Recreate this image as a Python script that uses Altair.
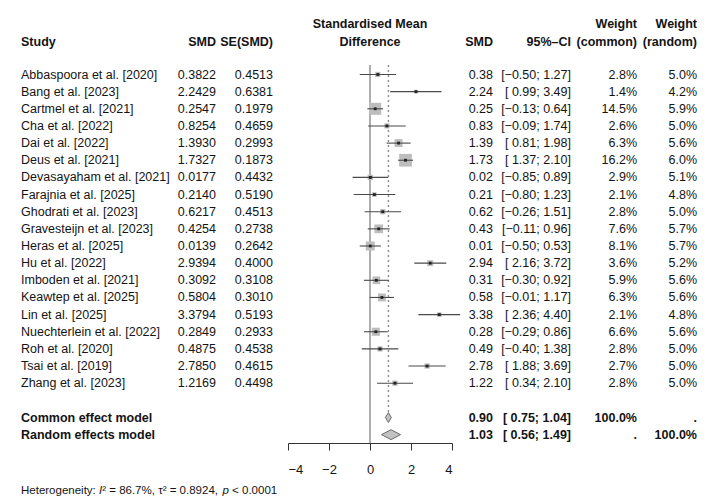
import altair as alt
import pandas as pd

# ---------------- data ----------------
studies = ["Abbaspoora et al. [2020]", "Bang et al. [2023]", "Cartmel et al. [2021]",
           "Cha et al. [2022]", "Dai et al. [2022]", "Deus et al. [2021]",
           "Devasayaham et al. [2021]", "Farajnia et al. [2025]", "Ghodrati et al. [2023]",
           "Gravesteijn et al. [2023]", "Heras et al. [2025]", "Hu et al. [2022]",
           "Imboden et al. [2021]", "Keawtep et al. [2025]", "Lin et al. [2025]",
           "Nuechterlein et al. [2022]", "Roh et al. [2020]", "Tsai et al. [2019]",
           "Zhang et al. [2023]"]
smd = [0.3822, 2.2429, 0.2547, 0.8254, 1.3930, 1.7327, 0.0177, 0.2140, 0.6217, 0.4254,
       0.0139, 2.9394, 0.3092, 0.5804, 3.3794, 0.2849, 0.4875, 2.7850, 1.2169]
se = [0.4513, 0.6381, 0.1979, 0.4659, 0.2993, 0.1873, 0.4432, 0.5190, 0.4513, 0.2738,
      0.2642, 0.4000, 0.3108, 0.3010, 0.5193, 0.2933, 0.4538, 0.4615, 0.4498]
smd_shown = ["0.38", "2.24", "0.25", "0.83", "1.39", "1.73", "0.02", "0.21", "0.62", "0.43",
             "0.01", "2.94", "0.31", "0.58", "3.38", "0.28", "0.49", "2.78", "1.22"]
ci_lo = [-0.50, 0.99, -0.13, -0.09, 0.81, 1.37, -0.85, -0.80, -0.26, -0.11,
         -0.50, 2.16, -0.30, -0.01, 2.36, -0.29, -0.40, 1.88, 0.34]
ci_hi = [1.27, 3.49, 0.64, 1.74, 1.98, 2.10, 0.89, 1.23, 1.51, 0.96,
         0.53, 3.72, 0.92, 1.17, 4.40, 0.86, 1.38, 3.69, 2.10]
w_common = [2.8, 1.4, 14.5, 2.6, 6.3, 16.2, 2.9, 2.1, 2.8, 7.6,
            8.1, 3.6, 5.9, 6.3, 2.1, 6.6, 2.8, 2.7, 2.8]
w_random = [5.0, 4.2, 5.9, 5.0, 5.6, 6.0, 5.1, 4.8, 5.0, 5.7,
            5.7, 5.2, 5.6, 5.6, 4.8, 5.6, 5.0, 5.0, 5.0]

models = ["Common effect model", "Random effects model"]
model_est = [0.90, 1.03]
model_lo = [0.75, 0.56]
model_hi = [1.04, 1.49]
model_wc = ["100.0%", "."]
model_wr = [".", "100.0%"]

axis_ticks = [-4, -2, 0, 2, 4]
# heterogeneity line, split where the italic letters are
het_parts = ["Heterogeneity:", "I", "\u00b2 = 86.7%, \u03c4\u00b2 = 0.8924,", "p", "< 0.0001"]
het_italic = [False, True, False, True, False]

# ---------------- helpers ----------------
def num(v):
    s = f"{abs(v):.2f}"
    return "\u2212" + s if v < 0 else s

def ci_str(lo, hi):
    lo_s = num(lo) if lo < 0 else " " + num(lo)
    return "[" + lo_s + "; " + num(hi) + "]"

n = len(studies)
df = pd.DataFrame({
    "study": studies, "row": list(range(n)), "smd": smd, "se": se,
    "lo": ci_lo, "hi": ci_hi, "wc": w_common, "wr": w_random,
})
df["smd_txt"] = [f"{v:.4f}" for v in smd]
df["se_txt"] = [f"{v:.4f}" for v in se]
df["est_txt"] = smd_shown
df["ci_txt"] = [ci_str(a, b) for a, b in zip(ci_lo, ci_hi)]
df["wc_txt"] = [f"{v:.1f}%" for v in w_common]
df["wr_txt"] = [f"{v:.1f}%" for v in w_random]

mdf = pd.DataFrame({
    "model": models, "row": [n + 1, n + 2], "est": model_est,
    "lo": model_lo, "hi": model_hi, "wc_txt": model_wc, "wr_txt": model_wr,
})
mdf["est_txt"] = [f"{v:.2f}" for v in model_est]
mdf["ci_txt"] = [ci_str(a, b) for a, b in zip(model_lo, model_hi)]

HALF = 0.29
dia_rows = []
for m, r, e, lo, hi in zip(models, mdf["row"], model_est, model_lo, model_hi):
    dia_rows += [
        {"model": m, "x": lo, "y": r, "y2": r},
        {"model": m, "x": e, "y": r - HALF, "y2": r + HALF},
        {"model": m, "x": hi, "y": r, "y2": r},
    ]
ddf = pd.DataFrame(dia_rows)

# reference lines (x value, from row, to row)
ref_zero = pd.DataFrame({"v": [0.0], "y0": [-0.55], "y1": [21.49]})
ref_common = pd.DataFrame({"v": [model_est[0]], "y0": [-0.55], "y1": [n + 1 - HALF]})

# ---------------- scales ----------------
FONT = "Liberation Sans"
FS = 12.5
TXT = "#141414"
X_SCALE = alt.Scale(domain=[-4, 4], range=[288, 452], nice=False, zero=False)
X_AXIS = alt.Axis(values=axis_ticks, orient="bottom", offset=-59, tickSize=7,
                  labelPadding=13, domainColor="#333333", tickColor="#333333",
                  labelColor=TXT, labelFont=FONT, labelFontSize=13, title=None,
                  grid=False, domainWidth=1, tickWidth=1)
Y_SCALE = alt.Scale(domain=[0, 21], range=[74.5, 434.65], nice=False, zero=False)


def X(field):
    return alt.X(f"{field}:Q", scale=X_SCALE, axis=X_AXIS)


def Y(field):
    return alt.Y(f"{field}:Q", scale=Y_SCALE, axis=None, stack=None)


def col(data, field, xpx, align, bold=False):
    return alt.Chart(data).mark_text(
        align=align, baseline="middle", font=FONT, fontSize=FS, color=TXT,
        fontWeight="bold" if bold else "normal"
    ).encode(x=alt.value(xpx), y=Y("row"), text=f"{field}:N")


def label(text, xpx, ypx, align, bold=True, size=FS, italic=False):
    return alt.Chart(pd.DataFrame({"t": [text]})).mark_text(
        align=align, baseline="middle", font=FONT, fontSize=size, color=TXT,
        fontWeight="bold" if bold else "normal",
        fontStyle="italic" if italic else "normal",
    ).encode(x=alt.value(xpx), y=alt.value(ypx), text="t:N")


# ---------------- graphical layers ----------------
zero_line = alt.Chart(ref_zero).mark_rule(
    color="#8c8c8c", strokeWidth=1.4
).encode(x=X("v"), y=Y("y0"), y2="y1")

common_line = alt.Chart(ref_common).mark_rule(
    color="#8c8c8c", strokeWidth=1.4, strokeDash=[2, 3]
).encode(x=X("v"), y=Y("y0"), y2="y1")

squares = alt.Chart(df).mark_square(color="#bdbdbd", opacity=1).encode(
    x=X("smd"), y=Y("row"),
    size=alt.Size("wc:Q", scale=alt.Scale(type="linear", domain=[0, 16.2], range=[0, 162]),
                  legend=None),
)
ci_rules = alt.Chart(df).mark_rule(color="#4a4a4a", strokeWidth=1.1).encode(
    x=X("lo"), x2="hi", y=Y("row")
)
dots = alt.Chart(df).mark_square(color="#222222", size=8, opacity=1).encode(
    x=X("smd"), y=Y("row")
)
diamonds = alt.Chart(ddf).mark_area(
    fill="#c2c2c2", stroke="#6a6a6a", strokeWidth=1, opacity=1
).encode(x=X("x"), y=Y("y"), y2="y2", detail="model:N")

# ---------------- text columns ----------------
texts = [
    col(df, "study", 21, "left"),
    col(df, "smd_txt", 216, "right"),
    col(df, "se_txt", 273, "right"),
    col(df, "est_txt", 493, "right"),
    col(df, "ci_txt", 571, "right"),
    col(df, "wc_txt", 637, "right"),
    col(df, "wr_txt", 697, "right"),
    col(mdf, "model", 21, "left", True),
    col(mdf, "est_txt", 493, "right", True),
    col(mdf, "ci_txt", 571, "right", True),
    col(mdf, "wc_txt", 637, "right", True),
    col(mdf, "wr_txt", 697, "right", True),
]

headers = [
    label("Study", 21, 42, "left"),
    label("SMD", 216, 42, "right"),
    label("SE(SMD)", 273, 42, "right"),
    label("Standardised Mean", 370, 24, "center"),
    label("Difference", 370, 42, "center"),
    label("SMD", 493, 42, "right"),
    label("95%\u2013CI", 571, 42, "right"),
    label("Weight", 637, 24, "right"),
    label("(common)", 637, 42, "right"),
    label("Weight", 697, 24, "right"),
    label("(random)", 697, 42, "right"),
]

# heterogeneity pieces laid out with Arial/Liberation advance widths (per 1000 em),
# the separating spaces (278) counted in the advance of the piece before them
HET_FS = 11.5
adv = {"Heterogeneity:": 6781, "I": 278,
       "\u00b2 = 86.7%, \u03c4\u00b2 = 0.8924,": 10460, "p": 834}
xpos = 21.0
for part, it in zip(het_parts, het_italic):
    headers.append(label(part, round(xpos, 1), 491, "left", bold=False, size=HET_FS, italic=it))
    xpos += adv.get(part, 0) * HET_FS / 1000.0

chart = alt.layer(
    zero_line, common_line, squares, ci_rules, dots, diamonds, *texts, *headers
).properties(
    width=712, height=502, autosize=alt.AutoSizeParams(type="none"), padding=0,
    background="white",
).configure_view(stroke=None)

chart.save("out.html", embed_options={"renderer": "svg", "actions": False})
